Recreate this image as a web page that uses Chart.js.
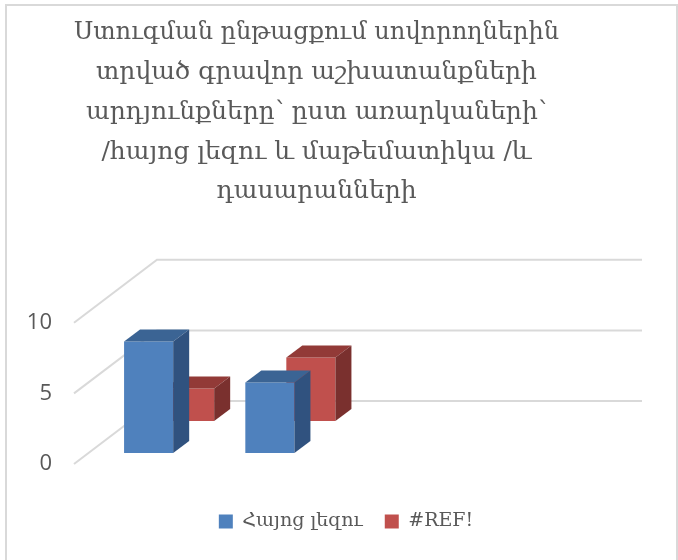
<!DOCTYPE html>
<html>
<head>
<meta charset="utf-8">
<script src="https://cdn.jsdelivr.net/npm/chart.js@4.4.0/dist/chart.umd.min.js"></script>
<style>
  html, body { margin: 0; padding: 0; background: #fff; }
  #wrap { width: 678px; height: 560px; }
</style>
</head>
<body>
<div id="wrap"><canvas id="chart" width="678" height="560"></canvas></div>
<script>
// chart values
const titleLines = [
    'Ստուգման ընթացքում սովորողներին',
    'տրված գրավոր աշխատանքների',
    'արդյունքները՝ ըստ առարկաների՝',
    '/հայոց լեզու և մաթեմատիկա /և',
    'դասարանների'
];
const categories = ['1', '2', '3', '4'];
const seriesNames = ['Հայոց լեզու', '#REF!'];
const armenianValues = [7.9, 5, null, null];
const refValues = [2.3, 4.5, null, null];
const yTicks = [0, 5, 10];

// 3d look
const WALL = { dx: 83, dy: -63 };          // floor depth front -> back wall
const ROWS = [{ dx: 14, dy: -11 }, { dx: 55, dy: -43 }]; // depth row of each series
const BOX = { dx: 16, dy: -12 };           // depth of one bar
const FACES = [
    { front: '#4F81BD', top: '#3B6494', side: '#30527F' },
    { front: '#C0504D', top: '#923A37', side: '#7A302E' }
];
const GRID = '#D9D9D9';
const TEXT = '#595959';

function quad(ctx, pts, color) {
    ctx.beginPath();
    ctx.moveTo(pts[0][0], pts[0][1]);
    for (let i = 1; i < pts.length; i++) ctx.lineTo(pts[i][0], pts[i][1]);
    ctx.closePath();
    ctx.fillStyle = color;
    ctx.fill();
}

const frame3d = {
    id: 'frame3d',
    beforeDraw(chart) {
        const ctx = chart.ctx;
        ctx.save();
        ctx.fillStyle = '#fff';
        ctx.fillRect(0, 0, chart.width, chart.height);
        ctx.strokeStyle = GRID;
        ctx.lineWidth = 2;
        ctx.strokeRect(6, 5, chart.width - 7, chart.height + 20);
        ctx.restore();
    },
    beforeDatasetsDraw(chart) {
        const ctx = chart.ctx;
        const area = chart.chartArea;
        const y = chart.scales.y;
        ctx.save();

        // perspective gridlines: side diagonal + back wall
        ctx.strokeStyle = GRID;
        ctx.lineWidth = 2;
        yTicks.forEach(v => {
            const py = y.getPixelForValue(v);
            ctx.beginPath();
            ctx.moveTo(area.left, py);
            ctx.lineTo(area.left + WALL.dx, py + WALL.dy);
            ctx.lineTo(area.right + WALL.dx, py + WALL.dy);
            ctx.stroke();
        });

        // bars, back row first
        for (let d = chart.data.datasets.length - 1; d >= 0; d--) {
            const meta = chart.getDatasetMeta(d);
            const row = ROWS[d];
            const c = FACES[d];
            meta.data.forEach((bar, i) => {
                const v = chart.data.datasets[d].data[i];
                if (v === null || v === undefined) return;
                const p = bar.getProps(['x', 'y', 'base', 'width'], true);
                const l = p.x - p.width / 2 + row.dx;
                const r = p.x + p.width / 2 + row.dx;
                const t = p.y + row.dy;
                const b = p.base + row.dy;
                quad(ctx, [[l, b], [r, b], [r, t], [l, t]], c.front);
                quad(ctx, [[l, t], [r, t], [r + BOX.dx, t + BOX.dy], [l + BOX.dx, t + BOX.dy]], c.top);
                quad(ctx, [[r, b], [r, t], [r + BOX.dx, t + BOX.dy], [r + BOX.dx, b + BOX.dy]], c.side);
            });
        }
        ctx.restore();
    },
    beforeDatasetDraw() {
        return false; // bars are drawn above as boxes
    }
};

new Chart(document.getElementById('chart'), {
    type: 'bar',
    data: {
        labels: categories,
        datasets: [
            { label: seriesNames[0], data: armenianValues, backgroundColor: FACES[0].front, yAxisID: 'y' },
            { label: seriesNames[1], data: refValues, backgroundColor: FACES[1].front, yAxisID: 'y' }
        ]
    },
    options: {
        responsive: false,
        animation: false,
        events: [],
        grouped: false,
        categoryPercentage: 1,
        barPercentage: 0.405,
        layout: { padding: { left: 14, right: 0, top: 0, bottom: 19 } },
        plugins: {
            title: {
                display: true,
                text: titleLines,
                fullSize: false,
                color: TEXT,
                font: { family: 'DejaVu Serif', size: 25, weight: 'normal', lineHeight: 1.59 },
                padding: { top: 13, bottom: 111 }
            },
            legend: {
                position: 'bottom',
                labels: {
                    color: TEXT,
                    boxWidth: 14,
                    boxHeight: 14,
                    padding: 22,
                    font: { family: 'DejaVu Serif', size: 19 }
                }
            },
            tooltip: { enabled: false }
        },
        scales: {
            x: {
                grid: { display: false },
                border: { display: false },
                ticks: { display: false },
                afterFit: s => { s.height = 26; }
            },
            y: {
                min: 0,
                max: 10,
                grid: { display: false, drawTicks: false },
                border: { display: false },
                ticks: {
                    stepSize: 5,
                    padding: 22,
                    color: TEXT,
                    font: { family: 'Open Sans', size: 22 }
                },
                afterFit: s => { s.width = 60; }
            },
            y2: {
                position: 'right',
                min: 0,
                max: 10,
                grid: { display: false },
                border: { display: false },
                ticks: { display: false },
                afterFit: s => { s.width = 119; }
            }
        }
    },
    plugins: [frame3d]
});
</script>
</body>
</html>
